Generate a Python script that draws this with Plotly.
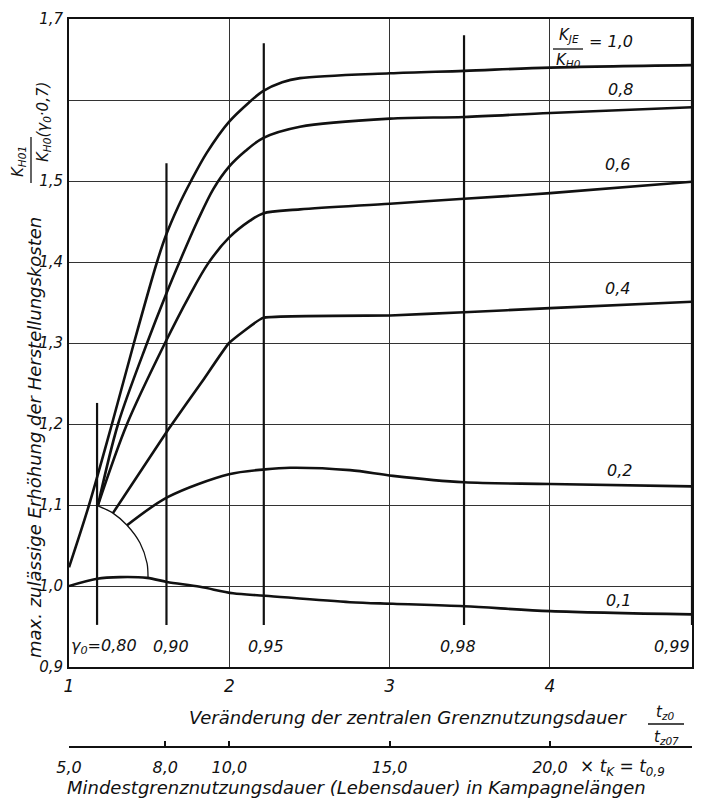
import plotly.graph_objects as go

# ---------------- data ----------------
x_10 = [1.000, 1.125, 1.268, 1.405, 1.549, 1.605, 1.680, 1.761, 1.860, 1.998, 2.123, 2.210, 2.330, 2.441, 3.002, 3.464, 4.001, 4.886]
y_10 = [1.023, 1.100, 1.200, 1.300, 1.400, 1.433, 1.468, 1.500, 1.535, 1.573, 1.597, 1.611, 1.622, 1.627, 1.633, 1.636, 1.640, 1.643]
x_08 = [1.181, 1.306, 1.487, 1.605, 1.700, 1.800, 1.900, 2.000, 2.100, 2.210, 2.441, 3.002, 3.464, 4.001, 4.886]
y_08 = [1.100, 1.200, 1.300, 1.360, 1.405, 1.450, 1.490, 1.518, 1.537, 1.553, 1.567, 1.577, 1.579, 1.584, 1.591]
x_06 = [1.181, 1.362, 1.599, 1.750, 1.867, 1.998, 2.129, 2.210, 2.441, 3.002, 3.464, 4.001, 4.886]
y_06 = [1.100, 1.200, 1.300, 1.358, 1.398, 1.430, 1.451, 1.460, 1.465, 1.472, 1.478, 1.485, 1.499]
x_04 = [1.274, 1.618, 1.836, 1.998, 2.210, 3.002, 3.464, 4.001, 4.886]
y_04 = [1.090, 1.193, 1.254, 1.300, 1.331, 1.334, 1.338, 1.343, 1.351]
x_02 = [1.362, 1.618, 1.998, 2.223, 2.379, 2.753, 3.021, 3.464, 4.001, 4.886]
y_02 = [1.075, 1.110, 1.138, 1.144, 1.146, 1.143, 1.136, 1.128, 1.126, 1.123]
x_01 = [1.000, 1.175, 1.318, 1.487, 1.611, 1.817, 2.023, 2.223, 2.753, 3.021, 3.464, 4.001, 4.886]
y_01 = [1.000, 1.009, 1.011, 1.010, 1.005, 0.999, 0.991, 0.988, 0.980, 0.978, 0.975, 0.969, 0.965]
arc_x = [1.181, 1.274, 1.362, 1.443, 1.487, 1.493]
arc_y = [1.099, 1.090, 1.075, 1.053, 1.028, 1.011]

curve_labels = ["0,8", "0,6", "0,4", "0,2", "0,1"]

gamma_labels = ["γ<sub>0</sub>=0,80", "0,90", "0,95", "0,98", "0,99"]
gamma_x = [1.175, 1.608, 2.215, 3.464, 4.886]
gamma_top = [1.226, 1.522, 1.670, 1.680, 1.700]
gamma_bottom = [0.952, 0.952, 0.952, 0.952, 0.952]

x_ticks = [1, 2, 3, 4]
x_tick_text = ["1", "2", "3", "4"]
y_ticks = [0.9, 1.0, 1.1, 1.2, 1.3, 1.4, 1.5, 1.6, 1.7]
y_tick_text = ["0,9", "1,0", "1,1", "1,2", "1,3", "1,4", "1,5", "", "1,7"]
life_ticks = [5, 8, 10, 15, 20]
life_tick_text = ["5,0", "8,0", "10,0", "15,0", "20,0"]
x_max = 4.886
life_factor = 5

# ---------------- layout helpers ----------------
W, H = 704, 805
L, R, T, B = 69, 12, 19, 58
PW, PH = W - L - R, H - T - B
plot_bottom_px = 667


def px(xp):
    return (xp - L) / PW


def py(yp):
    return (H - B - yp) / PH


FONT = "DejaVu Sans"
INK = "#111111"

fig = go.Figure()

curve_style = dict(color=INK, width=2.6)
for xs, ys, sm in [(x_10, y_10, 0.9), (x_08, y_08, 0.9), (x_06, y_06, 0.9),
                   (x_04, y_04, 0.3), (x_02, y_02, 0.9), (x_01, y_01, 0.9)]:
    fig.add_trace(go.Scatter(x=xs, y=ys, mode="lines",
                             line=dict(shape="spline", smoothing=sm, **curve_style),
                             hoverinfo="skip", showlegend=False))

fig.add_trace(go.Scatter(x=arc_x, y=arc_y, mode="lines",
                         line=dict(shape="spline", smoothing=0.8, color=INK, width=1.3),
                         hoverinfo="skip", showlegend=False))

for gx, gt, gb in zip(gamma_x, gamma_top, gamma_bottom):
    fig.add_trace(go.Scatter(x=[gx, gx], y=[gb, gt], mode="lines",
                             line=dict(color=INK, width=2.2),
                             hoverinfo="skip", showlegend=False))

# invisible helper trace so that the second x axis is drawn
fig.add_trace(go.Scatter(x=[life_ticks[0]], y=[y_ticks[0]], xaxis="x2", yaxis="y",
                         mode="markers", marker=dict(opacity=0), hoverinfo="skip",
                         showlegend=False))

annotations = []


def ann(text, xp, yp, size=16, angle=0):
    annotations.append(dict(text=text, x=px(xp), y=py(yp), xref="paper", yref="paper",
                            showarrow=False, textangle=angle, xanchor="center", yanchor="middle",
                            font=dict(family=FONT, size=size, color=INK, style="italic")))


# axis titles
ann("max. zulässige Erhöhung der Herstellungskosten", 35, 438, 18, -90)
ann("K<sub>H01</sub>", 19, 162, 15, -90)
ann("K<sub>H0</sub>(γ<sub>0</sub>·0,7)", 43, 122, 15, -90)
ann("Veränderung der zentralen Grenznutzungsdauer", 408, 717, 18)
ann("t<sub>z0</sub>", 665, 712, 15)
ann("t<sub>z07</sub>", 666, 737, 15)
ann("× t<sub>K</sub> = t<sub>0,9</sub>", 622, 768, 17)
ann("Mindestgrenznutzungsdauer (Lebensdauer) in Kampagnelängen", 356, 787, 18)

# curve parameter labels
ann("K<sub>JE</sub>", 569, 35, 15)
ann("K<sub>H0</sub>", 568, 60, 15)
ann("= 1,0", 611, 41, 16)
for txt, (xp, yp) in zip(curve_labels, [(620, 90), (617, 165), (617, 288), (619, 470), (618, 600)]):
    ann(txt, xp, yp, 16)

# gamma labels
for txt, xp in zip(gamma_labels, [104, 171, 266, 458, 672]):
    ann(txt, xp, 646, 16)

shapes = [
    dict(type="line", xref="paper", yref="paper", x0=px(31), x1=px(31), y0=py(137), y1=py(183),
         line=dict(color=INK, width=1.3)),
    dict(type="line", xref="paper", yref="paper", x0=px(648), x1=px(684), y0=py(724), y1=py(724),
         line=dict(color=INK, width=1.3)),
    dict(type="line", xref="paper", yref="paper", x0=px(553), x1=px(583), y0=py(49), y1=py(49),
         line=dict(color=INK, width=1.3)),
]

fig.update_layout(
    width=W, height=H,
    margin=dict(l=L, r=R, t=T, b=B, pad=0, autoexpand=False),
    paper_bgcolor="white", plot_bgcolor="white",
    font=dict(family=FONT, size=16, color=INK, style="italic"),
    showlegend=False,
    annotations=annotations,
    shapes=shapes,
    xaxis=dict(range=[1, x_max], anchor="y", tickvals=x_ticks, ticktext=x_tick_text,
               showline=True, mirror=True, linecolor=INK, linewidth=2, automargin=False,
               showgrid=True, gridcolor="#333333", gridwidth=1, zeroline=False,
               ticks="", ticklabelstandoff=3,
               tickfont=dict(family=FONT, size=17, color=INK, style="italic")),
    xaxis2=dict(range=[life_factor * 1, life_factor * x_max], overlaying="x", anchor="free",
                position=0, side="bottom", tickvals=life_ticks, ticktext=life_tick_text,
                showline=True, linecolor=INK, linewidth=1.5, showgrid=False, zeroline=False,
                ticks="inside", ticklen=5, tickwidth=1.5, tickcolor=INK, ticklabelstandoff=6,
                automargin=False,
                tickfont=dict(family=FONT, size=16, color=INK, style="italic")),
    yaxis=dict(range=[0.9, 1.7], domain=[py(plot_bottom_px), 1], tickvals=y_ticks,
               ticktext=y_tick_text, showline=True, mirror=True, linecolor=INK, linewidth=2,
               showgrid=True, gridcolor="#333333", gridwidth=1, zeroline=False,
               ticks="", ticklabelstandoff=1, automargin=False,
               tickfont=dict(family=FONT, size=15, color=INK, style="italic")),
)

fig.write_html("out.html", config={"displayModeBar": False},
               post_script="document.body.style.margin='0';document.body.style.padding='0';")
